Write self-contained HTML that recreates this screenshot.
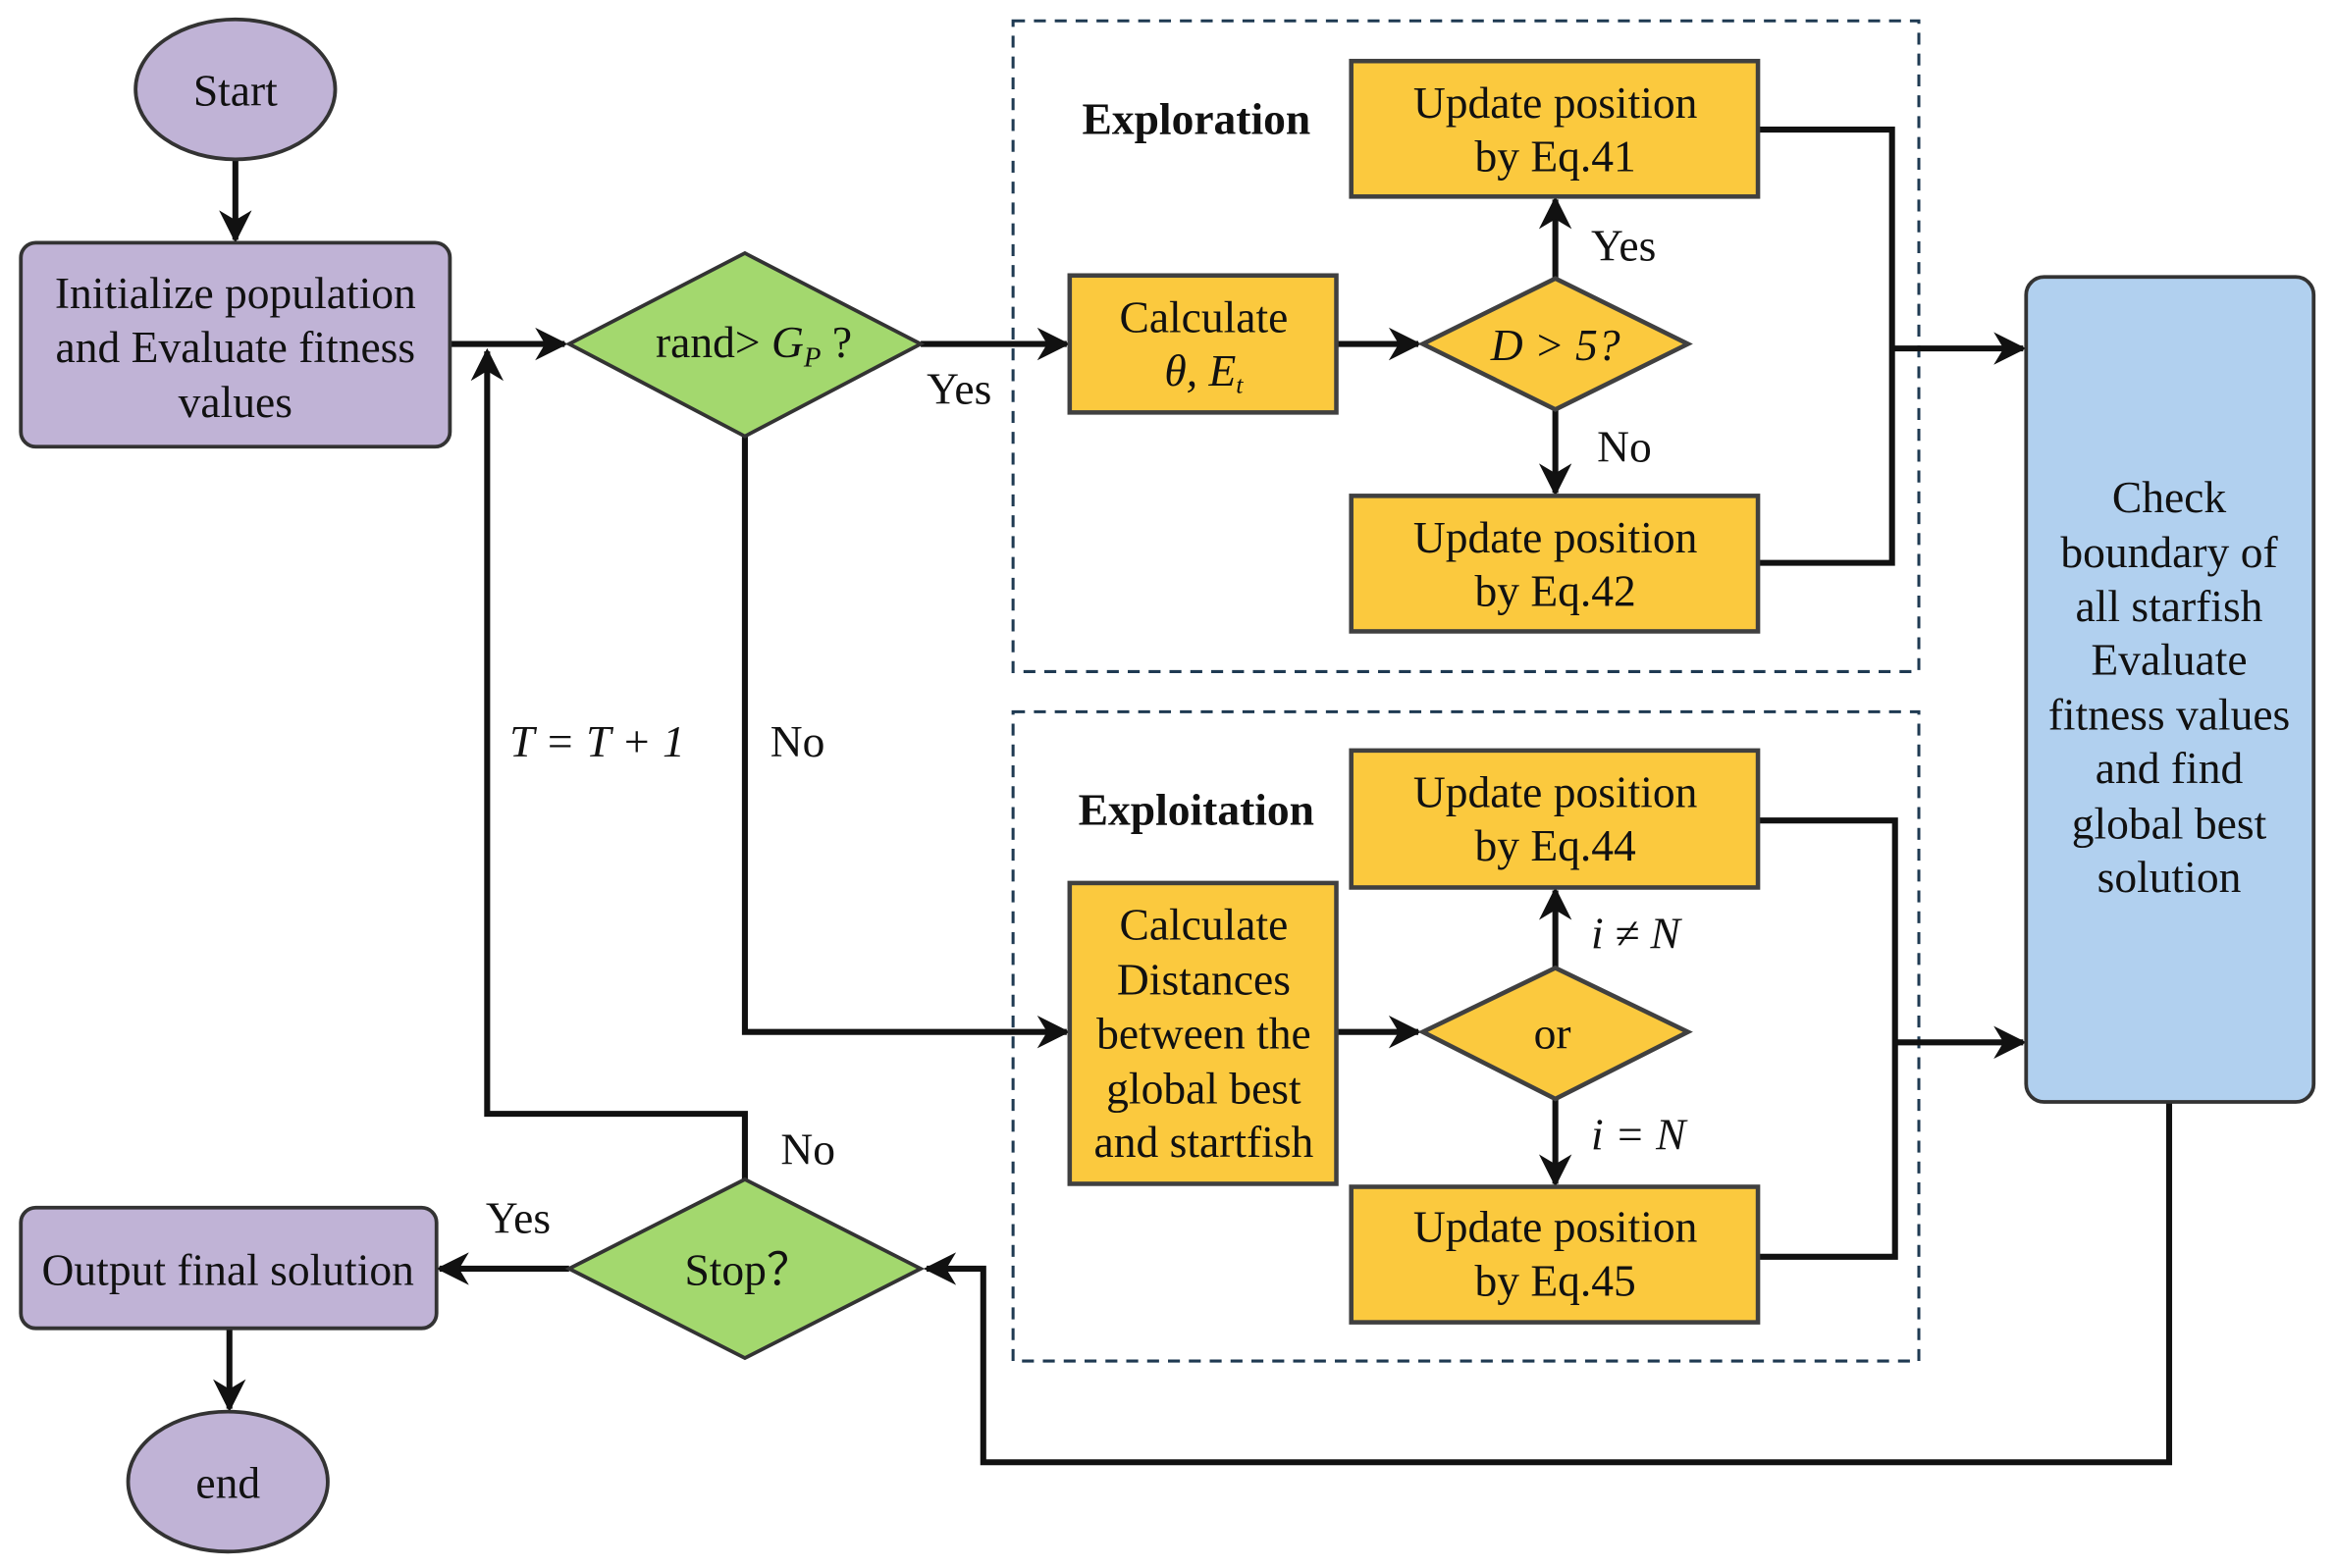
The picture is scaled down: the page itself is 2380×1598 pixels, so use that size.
<!DOCTYPE html>
<html><head><meta charset="utf-8"><style>html,body{margin:0;padding:0;background:#fff}svg{display:block}text{font-family:"Liberation Serif",serif;font-size:30px;fill:#111}</style></head>
<body>
<svg width="2380" height="1598" viewBox="0 0 1568 1053" preserveAspectRatio="none" xmlns="http://www.w3.org/2000/svg">
<defs><marker id="b" viewBox="0 0 10 10" refX="9" refY="5" markerWidth="22" markerHeight="22" markerUnits="userSpaceOnUse" orient="auto"><path d="M0,0 L10,5 L0,10 L3,5 z" fill="#111"/></marker></defs>
<g fill="none" stroke="#1f3a52" stroke-width="2" stroke-dasharray="8,6">
<rect x="680" y="14" width="608" height="437"/><rect x="680" y="478" width="608" height="436"/></g>
<g stroke="#111" stroke-width="4" fill="none" marker-end="url(#b)">
<line x1="158" y1="107" x2="158" y2="161"/>
<line x1="302" y1="231" x2="379" y2="231"/>
<line x1="618" y1="231" x2="716" y2="231"/>
<line x1="897" y1="231" x2="952" y2="231"/>
<line x1="1044" y1="187" x2="1044" y2="134"/>
<line x1="1044" y1="275" x2="1044" y2="331"/>
<line x1="1270" y1="234" x2="1358" y2="234"/>
<polyline points="500,293 500,693 716,693"/>
<line x1="897" y1="693" x2="952" y2="693"/>
<line x1="1044" y1="650" x2="1044" y2="598"/>
<line x1="1044" y1="738" x2="1044" y2="795"/>
<line x1="1272" y1="700" x2="1358" y2="700"/>
<polyline points="1456,740 1456,982 660,982 660,852 622,852"/>
<polyline points="500,792 500,748 327,748 327,236"/>
<line x1="382" y1="852" x2="295" y2="852"/>
<line x1="154" y1="892" x2="154" y2="946"/>
</g>
<g stroke="#111" stroke-width="4" fill="none">
<polyline points="1180,87 1270,87 1270,378 1180,378"/>
<polyline points="1180,551 1272,551 1272,844 1180,844"/>
</g>
<g stroke="#333" stroke-width="2.5">
<ellipse cx="158" cy="60" rx="67" ry="47" fill="#c0b3d6"/>
<ellipse cx="153" cy="995" rx="67" ry="47" fill="#c0b3d6"/>
<rect x="14" y="163" width="288" height="137" rx="10" fill="#c0b3d6"/>
<rect x="14" y="811" width="279" height="81" rx="10" fill="#c0b3d6"/>
<polygon points="382,231 500,170 618,231 500,293" fill="#a3d86e"/>
<polygon points="382,852 500,792 618,852 500,912" fill="#a3d86e"/>
<rect x="1360" y="186" width="193" height="554" rx="12" fill="#b1d0ef"/>
</g>
<g stroke="#404040" stroke-width="3" fill="#fbc93e">
<rect x="907" y="41" width="273" height="91"/><rect x="718" y="185" width="179" height="92"/>
<polygon points="955,231 1044,187 1133,231 1044,275"/>
<rect x="907" y="333" width="273" height="91"/>
<rect x="907" y="504" width="273" height="92"/><rect x="718" y="593" width="179" height="202"/>
<polygon points="955,693 1044,650 1133,693 1044,738"/>
<rect x="907" y="797" width="273" height="91"/>
</g>
<g text-anchor="middle">
<text x="158" y="71">Start</text><text x="153" y="1006">end</text>
<text x="158" y="207">Initialize population</text><text x="158" y="243">and Evaluate fitness</text><text x="158" y="280">values</text>
<text x="153" y="863">Output final solution</text>
<text x="506" y="240">rand&gt; <tspan font-style="italic">G</tspan><tspan font-style="italic" font-size="19" dy="6">P</tspan><tspan dy="-6"> ?</tspan></text>
<text x="502" y="863">Stop？</text>
<text x="803" y="90" font-weight="bold" font-size="35">Exploration</text>
<text x="803" y="554" font-weight="bold" font-size="35">Exploitation</text>
<text x="1044" y="79">Update position</text><text x="1044" y="115">by Eq.41</text>
<text x="1044" y="371">Update position</text><text x="1044" y="407">by Eq.42</text>
<text x="1044" y="542">Update position</text><text x="1044" y="578">by Eq.44</text>
<text x="1044" y="834">Update position</text><text x="1044" y="870">by Eq.45</text>
<text x="808" y="223">Calculate</text><text x="808" y="259" font-style="italic">θ, E<tspan font-size="17" dy="5">t</tspan></text>
<text x="1044" y="242" font-style="italic">D &gt; 5?</text>
<text x="1042" y="704" font-size="32">or</text>
<text x="808" y="631">Calculate</text><text x="808" y="668">Distances</text><text x="808" y="704">between the</text><text x="808" y="741">global best</text><text x="808" y="777">and startfish</text>
<text x="1456" y="344">Check</text><text x="1456" y="381">boundary of</text><text x="1456" y="417">all starfish</text><text x="1456" y="453">Evaluate</text><text x="1456" y="490">fitness values</text><text x="1456" y="526">and find</text><text x="1456" y="563">global best</text><text x="1456" y="599">solution</text>
</g>
<text x="622" y="271">Yes</text>
<text x="1068" y="175">Yes</text>
<text x="1072" y="310">No</text>
<text x="517" y="508">No</text>
<text x="342" y="508" font-style="italic">T = T + 1</text>
<text x="1068" y="637" font-style="italic">i ≠ N</text>
<text x="1068" y="772" font-style="italic">i = N</text>
<text x="524" y="782">No</text>
<text x="326" y="828">Yes</text>
</svg>
</body></html>
